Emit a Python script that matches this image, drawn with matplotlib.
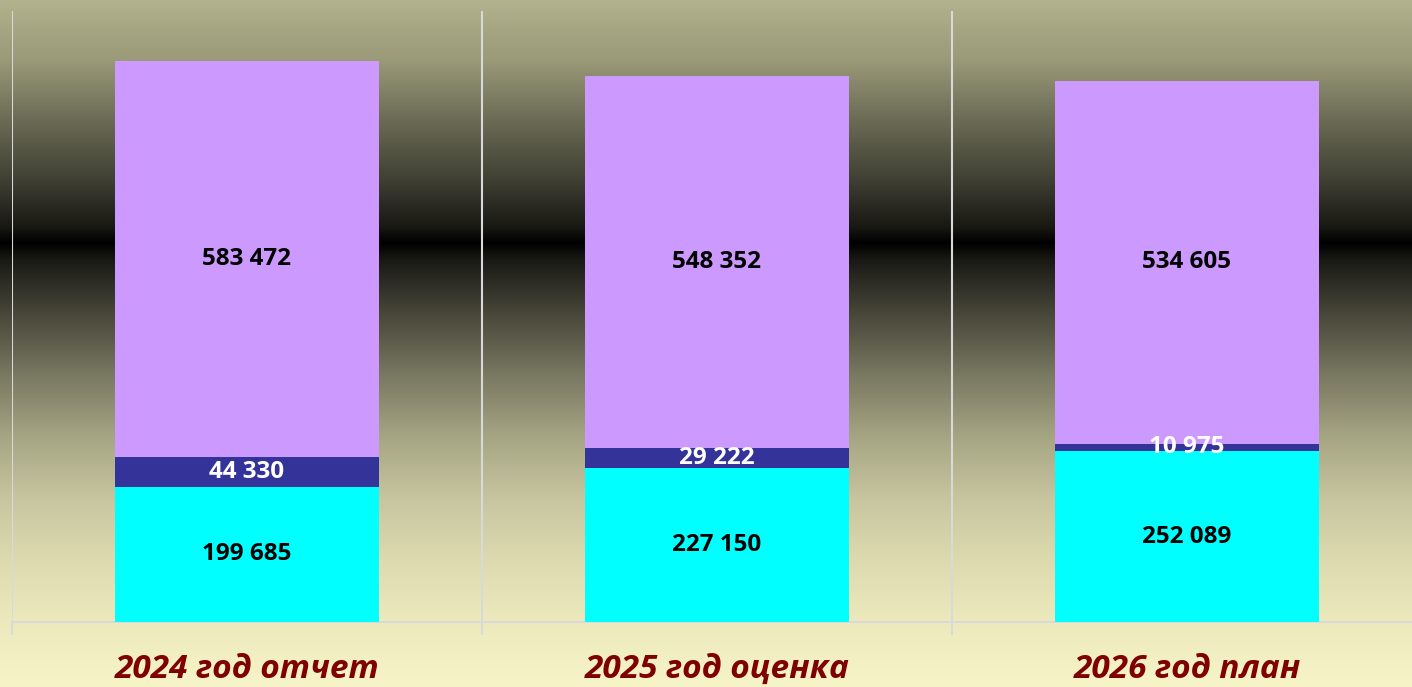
import numpy as np
import matplotlib.pyplot as plt
from matplotlib.colors import LinearSegmentedColormap

categories = ['2024 год отчет', '2025 год оценка', '2026 год план']
bottom_vals = [199685, 227150, 252089]
middle_vals = [44330, 29222, 10975]
top_vals = [583472, 548352, 534605]

plt.rcParams['font.family'] = ['Open Sans', 'DejaVu Sans']

W, H = 1412, 687
fig = plt.figure(figsize=(W / 100, H / 100), dpi=100)

# background gradient (top olive -> black band -> pale yellow at bottom)
bg = fig.add_axes([0, 0, 1, 1], zorder=0)
pts = [(0, '#b3b28e'), (60, '#9a9978'), (120, '#6b6b55'), (180, '#3f3f33'),
       (225, '#1a1a15'), (243, '#000000'), (260, '#1a1a15'), (320, '#4d4c3e'),
       (380, '#7d7c64'), (440, '#a8a785'), (500, '#c8c6a0'), (560, '#dcdaae'),
       (622, '#eceabd'), (687, '#f7f5c8')]
cmap = LinearSegmentedColormap.from_list('bg', [(p / H, c) for p, c in pts], N=1024)
grad = np.linspace(0, 1, 1024).reshape(-1, 1)
bg.imshow(grad, aspect='auto', cmap=cmap, extent=[0, 1, 0, 1], origin='upper')
bg.axis('off')

ax = fig.add_axes([12 / W, 65 / H, 1410 / W, 611 / H], zorder=1)
ax.patch.set_alpha(0)

x = np.arange(len(categories)) + 0.5
width = 0.56
mid_base = np.array(bottom_vals)
top_base = mid_base + np.array(middle_vals)

b1 = ax.bar(x, bottom_vals, width, color='#00ffff', zorder=3)
b2 = ax.bar(x, middle_vals, width, bottom=mid_base, color='#333399', zorder=3)
b3 = ax.bar(x, top_vals, width, bottom=top_base, color='#cc99ff', zorder=3)

def fmt(v):
    return f'{v:,}'.replace(',', ' ')

ax.bar_label(b1, labels=[fmt(v) for v in bottom_vals], label_type='center',
             fontsize=17.5, fontweight='bold', color='black', zorder=5)
ax.bar_label(b2, labels=[fmt(v) for v in middle_vals], label_type='center',
             fontsize=17.5, fontweight='bold', color='white', zorder=5)
ax.bar_label(b3, labels=[fmt(v) for v in top_vals], label_type='center',
             fontsize=17.5, fontweight='bold', color='black', zorder=5)

ax.set_xlim(0, 3)
ax.set_ylim(0, 901000)

ax.set_xticks(x)
ax.set_xticklabels(categories, fontsize=24, fontweight='bold', fontstyle='italic',
                   color='#7f0000')
ax.set_xticks([0, 1, 2, 3], minor=True)
ax.tick_params(axis='x', which='major', length=0, pad=22)
ax.tick_params(axis='x', which='minor', length=9, width=1.5, color='#d9d9d9')
ax.grid(axis='x', which='minor', color='#d9d9d9', linewidth=1.5, zorder=1)
ax.set_yticks([])

for s in ['top', 'left', 'right']:
    ax.spines[s].set_visible(False)
ax.spines['bottom'].set_color('#d9d9d9')
ax.spines['bottom'].set_linewidth(1.5)

fig.savefig('out.png', dpi=100)
